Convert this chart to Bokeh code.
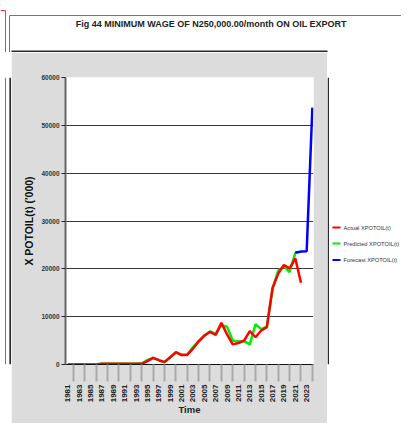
from bokeh.plotting import figure
from bokeh.layouts import column, row
from bokeh.models import Range1d, FixedTicker
from bokeh.core.properties import value
from bokeh.embed import file_html
from bokeh.resources import INLINE

# ---- data ----
actual_years = list(range(1981, 2023))
actual = [0, 0, 0, 0, 0, 0, 180, 180, 180, 180, 180, 180, 180, 150,
          700, 1400, 900, 500, 1500, 2600, 2000, 2000, 3300, 4800, 6000, 6800,
          6200, 8700, 6300, 4200, 4500, 5000, 7000, 5700, 7100, 7800, 16000,
          19000, 20800, 20100, 22200, 17100]
pred_years = list(range(1981, 2023))
predicted = [0, 0, 0, 0, 0, 0, 180, 180, 180, 180, 180, 180, 180, 250,
             900, 1400, 900, 500, 1500, 2500, 2000, 2100, 3600, 4900, 6100, 6900,
             6400, 8200, 7900, 5000, 4800, 4900, 4200, 8400, 7400, 7900, 15800,
             19600, 20500, 19300, 23300, 23600]
forecast_years = [2021, 2022, 2023, 2024]
forecast = [23400, 23600, 23700, 53700]
y_ticks = [0, 10000, 20000, 30000, 40000, 50000, 60000]
x_label_years = list(range(1981, 2024, 2))
x_minor_years = list(range(1982, 2025, 2))

title_text = "Fig 44  MINIMUM WAGE OF N250,000.00/month ON OIL EXPORT"
series_names = ["Actual XPOTOIL(t)", "Predicted XPOTOIL(t)", "Forecast XPOTOIL(t)"]
series_colors = ["#ff0000", "#00ee00", "#0000ff"]

FONT = "Liberation Sans"
GRAY = "#dcdcdc"
DARK = "#2a2a2a"
RED = "#ff3a3a"


def blank(w, h, xr, yr, bg="white"):
    # a decoration strip whose frame is addressed in page pixels
    f = figure(width=w, height=h, output_backend="svg", toolbar_location=None,
               x_range=Range1d(*xr), y_range=Range1d(*yr),
               x_axis_location=None, y_axis_location=None, min_border=0)
    f.grid.visible = False
    f.outline_line_color = None
    f.background_fill_color = bg
    f.border_fill_color = bg
    return f


# ---- top strip: title and frame lines ----
top = blank(401, 52, (0, 401), (52, 0))
top.segment(x0=[0, 5, 9, 9, 11], y0=[10, 10, 15, 15, 51],
            x1=[5, 5, 401, 9, 327], y1=[10, 52, 15, 52, 51],
            line_color=[RED, RED, RED, RED, DARK], line_width=[1, 1, 1, 1, 2])
top.text(x=[212], y=[23], text=[title_text], text_font=value(FONT),
         text_font_style="bold", text_font_size="9px", text_align="center",
         text_baseline="middle", text_color="#222222")

# ---- left strip (its frame is aligned with the chart frame: y 77..364) ----
left = blank(11, 371, (0, 11), (364, 77))
left.segment(x0=[5, 9, 10.25], y0=[77, 77, 77], x1=[5, 9, 10.25], y1=[364, 364, 364],
             line_color=[RED, RED, DARK], line_width=[1, 1, 1.5])

# ---- main chart ----
p = figure(width=316, height=371, output_backend="svg", toolbar_location=None,
           x_range=Range1d(1980.6, 2024.2), y_range=Range1d(0, 60000),
           min_border_left=54, min_border_right=14, min_border_top=25,
           min_border_bottom=59)
p.background_fill_color = "white"
p.border_fill_color = GRAY
p.outline_line_color = None

p.xgrid.visible = False
p.ygrid.ticker = FixedTicker(ticks=y_ticks)
p.ygrid.grid_line_color = "#3a3a3a"
p.ygrid.grid_line_width = 1

ya = p.yaxis[0]
ya.ticker = FixedTicker(ticks=y_ticks)
ya.axis_line_color = "#666666"
ya.axis_line_width = 2
ya.major_tick_out = 4
ya.major_tick_in = 0
ya.minor_tick_out = 0
ya.minor_tick_in = 0
ya.major_tick_line_color = "#222222"
ya.major_label_standoff = 2
ya.major_label_text_font = FONT
ya.major_label_text_font_style = "bold"
ya.major_label_text_font_size = "6.5px"
ya.major_label_text_color = "#333333"
ya.axis_label = "X POTOIL(t) ('000)"
ya.axis_label_text_font = FONT
ya.axis_label_text_font_style = "bold"
ya.axis_label_text_font_size = "10.5px"
ya.axis_label_text_color = "#111111"
ya.axis_label_standoff = 3

xa = p.xaxis[0]
xa.ticker = FixedTicker(ticks=x_label_years, minor_ticks=x_minor_years)
xa.axis_line_color = "#111111"
xa.axis_line_width = 1
xa.major_tick_out = 0
xa.major_tick_in = 0
xa.minor_tick_in = 0
xa.minor_tick_out = 17
xa.minor_tick_line_color = "#a9a9a9"
xa.minor_tick_line_width = 2
xa.major_label_orientation = 3.14159265 / 2
xa.major_label_standoff = 3
xa.major_label_text_font = FONT
xa.major_label_text_font_style = "bold"
xa.major_label_text_font_size = "8px"
xa.major_label_text_color = "#222222"
xa.axis_label = "Time"
xa.axis_label_text_font = FONT
xa.axis_label_text_font_style = "bold"
xa.axis_label_text_font_size = "9.5px"
xa.axis_label_text_color = "#222222"
xa.axis_label_standoff = -1

p.line(pred_years, predicted, line_color=series_colors[1], line_width=2.5)
p.line(actual_years, actual, line_color=series_colors[0], line_width=2.5)
p.line(forecast_years, forecast, line_color=series_colors[2], line_width=2.5)

# ---- right strip: panel edge and legend (frame aligned to y 77..364) ----
right = blank(74, 371, (327, 401), (364, 77))
right.segment(x0=[327.75], y0=[77], x1=[327.75], y1=[364], line_color=DARK, line_width=1.5)
leg_y = [227, 243, 259.5]
right.segment(x0=[332] * 3, y0=leg_y, x1=[340] * 3, y1=leg_y,
              line_color=series_colors, line_width=2)
right.text(x=[343] * 3, y=leg_y, text=series_names, text_font=value(FONT),
           text_font_size="5.7px", text_baseline="middle", text_align="left",
           text_color="#333333")

layout = column(top, row(left, p, right, spacing=0), spacing=0)
open("out.html", "w").write(file_html(layout, INLINE))
